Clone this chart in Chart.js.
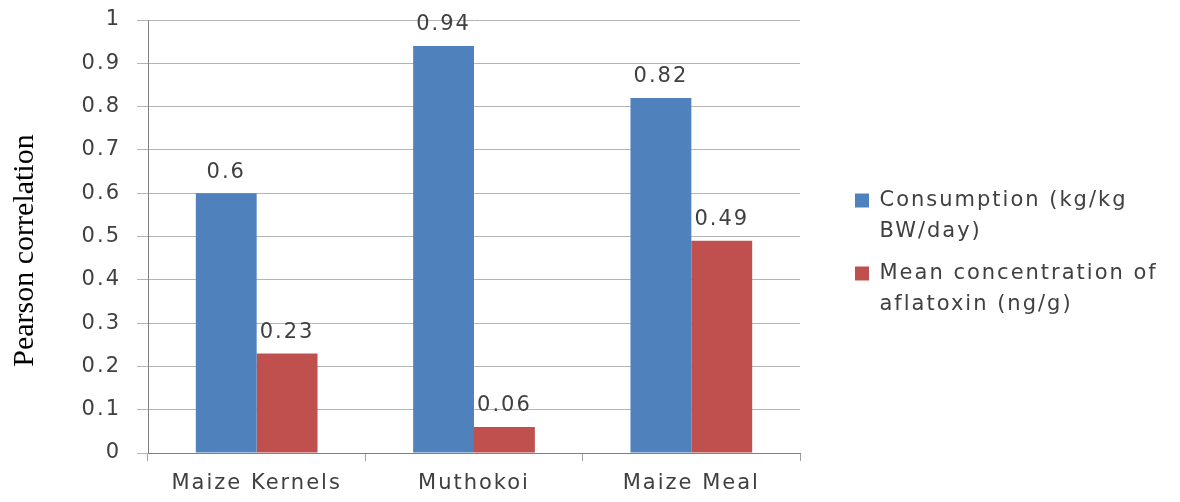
<!DOCTYPE html>
<html>
<head>
<meta charset="utf-8">
<script src="https://cdn.jsdelivr.net/npm/chart.js@4"></script>
<style>
  html, body { margin: 0; padding: 0; background: #fff; }
  #wrap { width: 1180px; height: 502px; }
</style>
</head>
<body>
<div id="wrap"><canvas id="chart" width="1180" height="502"></canvas></div>
<script>
const categories = ['Maize Kernels', 'Muthokoi', 'Maize Meal']
const consumption = [0.6, 0.94, 0.82]
const aflatoxin = [0.23, 0.06, 0.49]
const seriesNames = [['Consumption (kg/kg', 'BW/day)'], ['Mean concentration of', 'aflatoxin (ng/g)']]
const yTicks = ['0', '0.1', '0.2', '0.3', '0.4', '0.5', '0.6', '0.7', '0.8', '0.9', '1']

const textFont = 'DejaVu Sans'
const textColor = '#404040'
const spacing = '2px'

// the original's lettering is wide, so open up the letters a bit
const wideText = {
    id: 'wideText',
    beforeInit: (chart) => { chart.ctx.letterSpacing = spacing },
    beforeLayout: (chart) => { chart.ctx.letterSpacing = spacing },
    beforeDraw: (chart) => { chart.ctx.letterSpacing = spacing },
    afterInit: (chart) => {
        // legend wider than its text so items sit off to the right
        const lg = chart.legend
        const fit = lg.fit.bind(lg)
        lg.fit = function () { fit(); this.width = 329 }
    },
    afterUpdate: (chart) => {
        // serif axis title keeps normal spacing, sits a little lower
        const y = chart.scales.y
        if (y._plainTitle) return
        const dt = y.drawTitle.bind(y)
        y.drawTitle = function () {
            const c = this.ctx
            c.save()
            c.letterSpacing = '0px'
            c.translate(0, 14)
            dt()
            c.restore()
        }
        y._plainTitle = true
    }
}

// value labels above each bar
const barLabels = {
    id: 'barLabels',
    afterDatasetsDraw: (chart) => {
        const ctx = chart.ctx
        ctx.save()
        ctx.letterSpacing = spacing
        ctx.font = '21px "' + textFont + '"'
        ctx.fillStyle = textColor
        ctx.textAlign = 'center'
        ctx.textBaseline = 'middle'
        chart.data.datasets.forEach((ds, i) => {
            chart.getDatasetMeta(i).data.forEach((bar, j) => {
                ctx.fillText(String(ds.data[j]), bar.x, bar.y - 21)
            })
        })
        ctx.restore()
    }
}

const noPad = (scale) => { scale.paddingTop = 0; scale.paddingBottom = 0 }

const ctx = document.getElementById('chart').getContext('2d')
const myChart = new Chart(ctx, {
    type: 'bar',
    data: {
        labels: categories,
        datasets: [
            { label: seriesNames[0], data: consumption, backgroundColor: '#4F81BD' },
            { label: seriesNames[1], data: aflatoxin, backgroundColor: '#C0504D' }
        ]
    },
    options: {
        responsive: false,
        animation: false,
        layout: { padding: { top: 20, right: 6, bottom: 6, left: 3 } },
        datasets: { bar: { categoryPercentage: 0.56, barPercentage: 1 } },
        plugins: {
            legend: {
                position: 'right',
                labels: {
                    font: { family: textFont, size: 21, lineHeight: 1.5 },
                    color: textColor,
                    boxWidth: 14,
                    boxHeight: 14,
                    padding: 10
                }
            },
            tooltip: { enabled: false }
        },
        scales: {
            x: {
                grid: { display: true, drawOnChartArea: false, offset: true, tickLength: 8, color: '#a0a0a0' },
                border: { color: '#808080' },
                ticks: { font: { family: textFont, size: 21 }, color: textColor, padding: 10 },
                afterFit: (scale) => { scale.height = 43 }
            },
            y: {
                min: 0,
                max: 1,
                ticks: {
                    stepSize: 0.1,
                    font: { family: textFont, size: 21 },
                    color: textColor,
                    padding: 16,
                    callback: (v, i) => yTicks[i]
                },
                grid: { color: '#b4b4b4', tickLength: 11 },
                border: { color: '#808080' },
                title: {
                    display: true,
                    text: 'Pearson correlation',
                    font: { family: 'Liberation Serif', size: 30 },
                    color: '#000'
                },
                afterFit: (scale) => { scale.width = 145; noPad(scale) }
            },
            gap: {
                position: 'right',
                display: true,
                grid: { display: false },
                border: { display: false },
                ticks: { display: false },
                afterFit: (scale) => { scale.width = 45; noPad(scale) }
            }
        }
    },
    plugins: [wideText, barLabels]
})
</script>
</body>
</html>
